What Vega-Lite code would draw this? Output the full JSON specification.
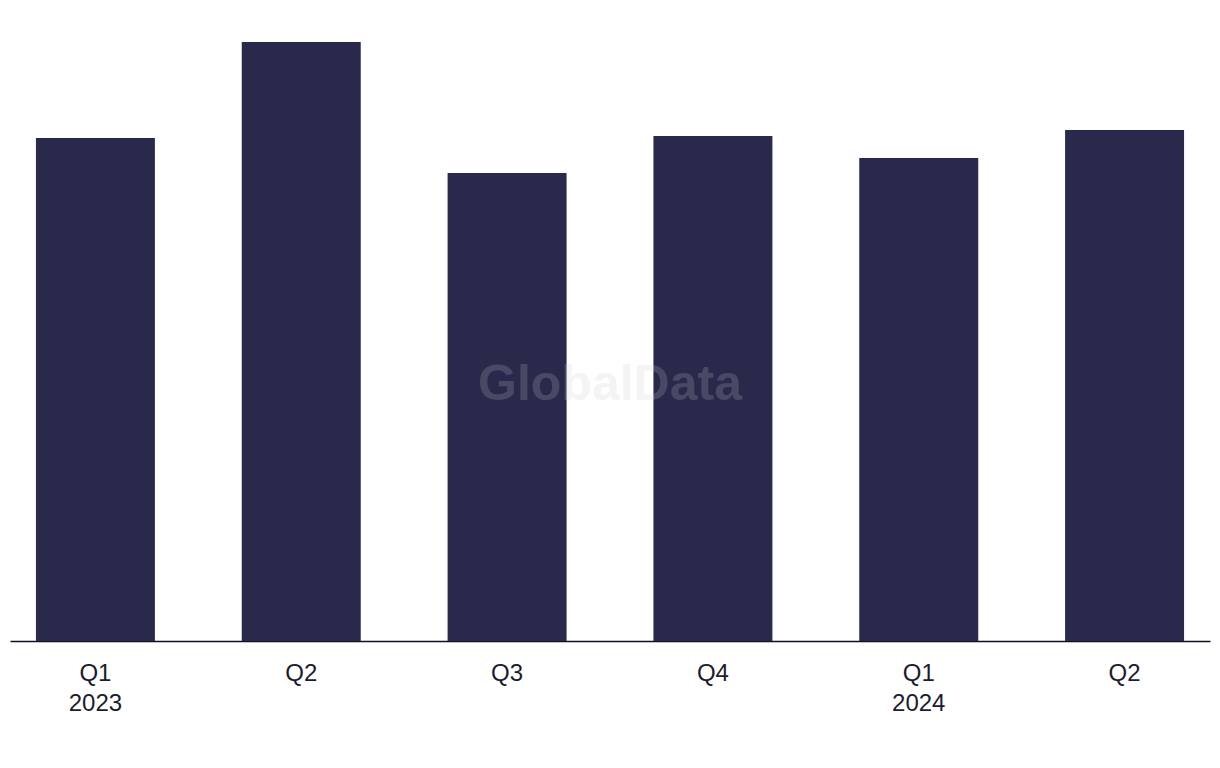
{
  "$schema": "https://vega.github.io/schema/vega-lite/v6.json",
  "width": 1200,
  "height": 641,
  "autosize": {"type": "none"},
  "padding": {"left": 10, "top": 0, "right": 10, "bottom": 127},
  "background": "white",
  "config": {"view": {"stroke": null}},
  "data": {"values": [
    {"period": "Q1 2023", "value": 503},
    {"period": "Q2 2023", "value": 599},
    {"period": "Q3 2023", "value": 468},
    {"period": "Q4 2023", "value": 505},
    {"period": "Q1 2024", "value": 483},
    {"period": "Q2 2024", "value": 511}
  ]},
  "layer": [
    {
      "mark": {"type": "bar", "color": "#29294b"},
      "encoding": {
        "x": {
          "field": "period", "type": "nominal", "sort": null,
          "scale": {"paddingInner": 0.422, "paddingOuter": 0.126},
          "axis": {
            "title": null, "labelAngle": 0, "ticks": false,
            "domainColor": "#111122", "domainWidth": 1.5,
            "labelFont": "Liberation Sans", "labelFontSize": 24, "labelColor": "#1c1c2e",
            "labelPadding": 20, "labelLineHeight": 30, "labelBaseline": "top",
            "labelExpr": "split(datum.value, ' ')[0] == 'Q1' ? split(datum.value, ' ') : split(datum.value, ' ')[0]"
          }
        },
        "y": {
          "field": "value", "type": "quantitative",
          "scale": {"domain": [0, 641], "nice": false},
          "axis": null
        }
      }
    },
    {
      "data": {"values": [{"label": "GlobalData"}]},
      "mark": {"type": "text", "font": "Liberation Sans", "fontWeight": "bold", "fontSize": 50, "color": "#c9c9cf", "opacity": 0.2, "align": "center", "baseline": "middle"},
      "encoding": {
        "text": {"field": "label"},
        "x": {"value": {"expr": "width/2"}},
        "y": {"value": {"expr": "height*0.6"}}
      }
    }
  ]
}
